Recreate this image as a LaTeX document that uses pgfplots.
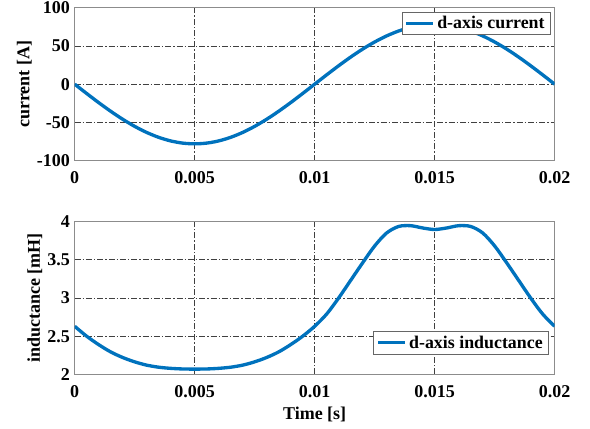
\documentclass[border=0pt]{standalone}
\usepackage{fontspec}
\setmainfont{Liberation Serif}
\usepackage{pgfplots}
\pgfplotsset{compat=1.18}
\definecolor{mblue}{RGB}{0,114,189}
\pgfplotsset{legend image code/.code={\draw[#1] (0pt,0pt) -- (20pt,0pt);}}
\pgfplotsset{
  every axis/.append style={
    scale only axis, width=360pt, height=114.75pt,
    xmin=0, xmax=0.02,
    scaled x ticks=false, scaled y ticks=false,
    grid=major,
    major grid style={black!75, line width=0.5pt, dash pattern=on 4.5pt off 1.5pt on 1pt off 1.5pt},
    axis line style={black!45, line width=0.6pt},
    major tick length=0pt,
    tick label style={font=\fontsize{13.5}{15}\selectfont\bfseries},
    label style={font=\fontsize{13.5}{15}\selectfont\bfseries},
    ylabel shift=-3pt,
    xtick={0,0.005,0.01,0.015,0.02},
    xticklabels={\textbf{0},\textbf{0.005},\textbf{0.01},\textbf{0.015},\textbf{0.02}},
    xticklabel style={yshift=-4.5pt},
    legend style={font=\fontsize{13.4}{15}\selectfont\bfseries, draw=black!60, line width=0.6pt, inner xsep=2pt, inner ysep=1pt, fill=white},
    legend cell align=left,
  }
}
\begin{document}
\begin{tikzpicture}
\path[use as bounding box] (-56pt,-201.2pt) rectangle (386.5pt,120.5pt);
\begin{axis}[name=top, at={(0,0)}, anchor=south west,
  ymin=-100, ymax=100, ytick={-100,-50,0,50,100},
  yticklabels={\textbf{-100},\textbf{-50},\textbf{0},\textbf{50},\textbf{100}},
  ylabel={current [A]},
  legend style={at={(0.991,0.974)}, anchor=north east}]
\addplot[mblue, line width=2.5pt, smooth] coordinates {
(0,0) (0.0005,-12.20) (0.001,-24.10) (0.0015,-35.41) (0.002,-45.85) (0.0025,-55.15)
(0.003,-63.10) (0.0035,-69.50) (0.004,-74.19) (0.0045,-77.04) (0.005,-78)
(0.0055,-77.04) (0.006,-74.19) (0.0065,-69.50) (0.007,-63.10) (0.0075,-55.15)
(0.008,-45.85) (0.0085,-35.41) (0.009,-24.10) (0.0095,-12.20) (0.01,0)
(0.0105,12.20) (0.011,24.10) (0.0115,35.41) (0.012,45.85) (0.0125,55.15)
(0.013,63.10) (0.0135,69.50) (0.014,74.19) (0.0145,77.04) (0.015,78)
(0.0155,77.04) (0.016,74.19) (0.0165,69.50) (0.017,63.10) (0.0175,55.15)
(0.018,45.85) (0.0185,35.41) (0.019,24.10) (0.0195,12.20) (0.02,0)
};
\legend{d-axis current}
\end{axis}
\begin{axis}[name=bot, at={(0,-160.35pt)}, anchor=south west,
  ymin=2, ymax=4, ytick={2,2.5,3,3.5,4},
  yticklabels={\textbf{2},\textbf{2.5},\textbf{3},\textbf{3.5},\textbf{4}},
  ylabel={inductance [mH]}, xlabel={Time [s]},
  legend style={at={(0.987,0.131)}, anchor=south east}]
\addplot[mblue, line width=2.5pt, smooth] coordinates {
(0,2.630) (0.0005,2.500) (0.001,2.390) (0.0015,2.295) (0.002,2.222) (0.0025,2.165)
(0.003,2.122) (0.0035,2.095) (0.004,2.080) (0.0045,2.072) (0.005,2.070)
(0.0055,2.072) (0.006,2.080) (0.0065,2.095) (0.007,2.122) (0.0075,2.165)
(0.008,2.222) (0.0085,2.295) (0.009,2.390) (0.0095,2.500) (0.01,2.630)
(0.0105,2.790) (0.011,3.000) (0.0115,3.230) (0.012,3.460) (0.0125,3.680)
(0.013,3.850) (0.0135,3.935) (0.014,3.945) (0.0145,3.915) (0.015,3.895)
(0.0155,3.915) (0.016,3.945) (0.0165,3.935) (0.017,3.850) (0.0175,3.680)
(0.018,3.460) (0.0185,3.230) (0.019,3.000) (0.0195,2.790) (0.02,2.630)
};
\legend{d-axis inductance}
\end{axis}
\end{tikzpicture}
\end{document}
